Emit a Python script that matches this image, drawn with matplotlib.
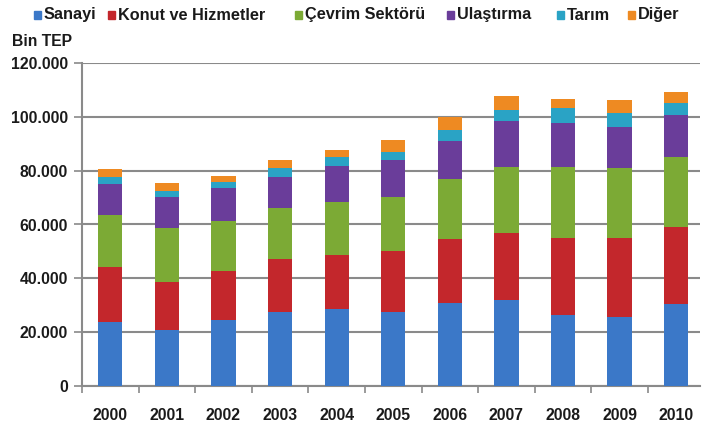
import matplotlib
matplotlib.use("Agg")
import matplotlib.pyplot as plt
from matplotlib.patches import Rectangle
import numpy as np

plt.rcParams['font.family'] = ['Liberation Sans', 'DejaVu Sans']

years = ['2000', '2001', '2002', '2003', '2004', '2005', '2006', '2007', '2008', '2009', '2010']
series_names = ['Sanayi', 'Konut ve Hizmetler', 'Çevrim Sektörü', 'Ulaştırma', 'Tarım', 'Diğer']

sanayi    = [23900, 20800, 24500, 27400, 28500, 27600, 30700, 31950, 26400, 25500, 30350]
konut     = [20200, 17950, 18350, 19800, 20200, 22700, 23800, 25000, 28500, 29400, 28850]
cevrim    = [19300, 19850, 18550, 18800, 19800, 20000, 22300, 24550, 26600, 26000, 25800]
ulastirma = [11600, 11700, 12000, 11750, 13200, 13700, 14300, 17100, 16300, 15400, 15700]
tarim     = [2800, 2300, 2500, 3150, 3300, 3000, 4000, 3900, 5400, 5000, 4500]
diger     = [2700, 2700, 2100, 3100, 2700, 4400, 4700, 5200, 3500, 5000, 4100]

colors = ['#3b78c8', '#c3272c', '#7caa35', '#6a3d9a', '#2aa3c5', '#ee8a22']
data = [sanayi, konut, cevrim, ulastirma, tarim, diger]

fig = plt.figure(figsize=(7.02, 4.23), dpi=100)
W, H = 702, 423
ax = fig.add_axes([82 / W, (H - 386) / H, (700 - 82) / W, (386 - 63) / H])

x = np.arange(len(years))
bottom = np.zeros(len(years))
for vals, c in zip(data, colors):
    v = np.array(vals, dtype=float)
    ax.bar(x, v, width=0.43, bottom=bottom, color=c, edgecolor='none', zorder=3)
    bottom += v

ax.set_xlim(-0.5, 10.42)
ax.set_ylim(0, 120000)
yt = np.arange(0, 120001, 20000)
ax.set_yticks(yt)
ax.set_yticklabels(['0' if t == 0 else f"{t // 1000}.000" for t in yt],
                   fontsize=11.3, fontweight='bold', color='#1a1a1a')
ax.yaxis.grid(True, color='#8a8a8a', linewidth=1.5, zorder=0)
ax.set_axisbelow(True)

ax.set_xticks(x)
ax.set_xticklabels(years, fontsize=11.3, fontweight='bold', color='#1a1a1a')
ax.tick_params(axis='x', length=0, pad=16)
ax.set_xticks(np.arange(-0.5, 10.5, 1.0), minor=True)
ax.tick_params(axis='x', which='minor', length=5, color='#8a8a8a', width=1.2)
ax.tick_params(axis='y', length=6, color='#8a8a8a', width=1.2, pad=4)

for s in ['top', 'right']:
    ax.spines[s].set_visible(False)
for s in ['left', 'bottom']:
    ax.spines[s].set_color('#8a8a8a')
    ax.spines[s].set_linewidth(1.5)

# legend
leg_x = [34, 108, 295, 447, 557, 628]
for lx, name, c in zip(leg_x, series_names, colors):
    fig.patches.append(Rectangle((lx / W, (H - 19) / H), 7 / W, 8 / H,
                                 transform=fig.transFigure, color=c, figure=fig))
    fig.text((lx + 10) / W, (H - 15) / H, name, fontsize=11.7, fontweight='bold',
             color='#1a1a1a', va='center', ha='left')

fig.text(12 / W, (H - 42) / H, 'Bin TEP', fontsize=11.3, fontweight='bold',
         color='#1a1a1a', va='center', ha='left')

fig.savefig('out.png', dpi=100)
